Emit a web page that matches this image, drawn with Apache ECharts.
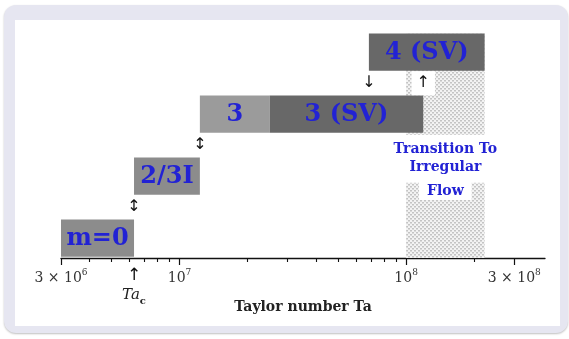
<!DOCTYPE html>
<html>
<head>
<meta charset="utf-8">
<script src="https://cdn.jsdelivr.net/npm/echarts@6/dist/echarts.min.js"></script>
<style>
  html, body { margin: 0; padding: 0; background: #fff; }
  #wrap { position: relative; width: 569px; height: 339px; overflow: hidden; }
  #frame { position: absolute; left: 4px; top: 5px; width: 564px; height: 328px;
           background: #e6e6f1; border-radius: 12px; box-shadow: 0 1px 2px rgba(0,0,0,0.25); }
  #panel { position: absolute; left: 15px; top: 20px; width: 545px; height: 306px; background: #fff; }
  #chart { position: absolute; left: 0; top: 0; width: 569px; height: 339px; }
</style>
</head>
<body>
<div id="wrap">
  <div id="frame"></div>
  <div id="panel"></div>
  <div id="chart"></div>
</div>
<script>
// flow regimes against Taylor number
const modeNames = ['m=0', '2/3I', '3', '3 (SV)', '4 (SV)'];
const modeStart = [3e6, 6.3e6, 1.23e7, 2.5e7, 6.85e7];
const modeEnd = [6.3e6, 1.23e7, 2.5e7, 1.19e8, 2.22e8];
const modeRow = [0, 1, 2, 2, 3];

// transitions between rows (arrow drawn in the gap above row)
const transitionTa = [6.3e6, 1.23e7, 6.85e7, 1.19e8];
const transitionRow = [0, 1, 2, 2];
const transitionGlyph = ['\u2195', '\u2195', '\u2193', '\u2191'];

// irregular flow band
const irregularFrom = 1e8;
const irregularTo = 2.22e8;
const noteText = ['Transition To\nIrregular', 'Flow'];
const noteTa = [1.49e8, 1.49e8];
const noteLevel = [1.6, 1.08];

// axis
const axisMin = 3e6;
const axisMax = 4.1e8;
const majorTicks = [3e6, 1e7, 1e8, 3e8];
const minorTicks = [4e6, 5e6, 6e6, 7e6, 8e6, 9e6,
  2e7, 3e7, 4e7, 5e7, 6e7, 7e7, 8e7, 9e7, 2e8];
const tickLabelTa = [3e6, 6.3e6, 1e7, 1e8, 3e8];
const tickLabelText = ['3 \u00d7 10{sup|6}', '{arr|\u2191}\n{it|Ta}{sub|c}', '10{sup|7}', '10{sup|8}', '3 \u00d7 10{sup|8}'];

const boxColors = ['#8c8c8c', '#8c8c8c', '#9b9b9b', '#686868', '#686868'];
const BLUE = '#2222d4';
const SERIF = '"DejaVu Serif", serif';
const BOX_LO = 0.02, BOX_HI = 0.62;

const lg = v => Math.log10(v);

function makeDots() {
  const c = document.createElement('canvas');
  c.width = 4; c.height = 4;
  const g = c.getContext('2d');
  g.fillStyle = '#f3f3f3';
  g.fillRect(0, 0, 4, 4);
  g.fillStyle = '#c4c4c4';
  g.fillRect(0, 0, 2, 1);
  g.fillRect(2, 2, 2, 1);
  g.fillStyle = '#dadada';
  g.fillRect(0, 1, 2, 1);
  g.fillRect(2, 3, 2, 1);
  return c;
}
const dots = makeDots();

const chart = echarts.init(document.getElementById('chart'), null, { renderer: 'canvas' });

const xBase = { type: 'value', min: lg(axisMin), max: lg(axisMax), gridIndex: 0, splitLine: { show: false } };

chart.setOption({
  animation: false,
  grid: { left: 61, right: 24, top: 10, bottom: 81, outerBoundsMode: 'none' },
  xAxis: [
    Object.assign({}, xBase, {
      position: 'bottom',
      axisLine: { lineStyle: { color: '#111', width: 1.3 } },
      axisTick: { customValues: majorTicks.map(lg), length: 7, lineStyle: { color: '#111', width: 1.2 } },
      axisLabel: {
        customValues: tickLabelTa.map(lg),
        margin: 10,
        color: '#333',
        fontFamily: SERIF,
        fontSize: 14,
        lineHeight: 20,
        formatter: (val) => {
          let best = 0;
          tickLabelTa.forEach((t, i) => {
            if (Math.abs(lg(t) - val) < Math.abs(lg(tickLabelTa[best]) - val)) best = i;
          });
          return tickLabelText[best];
        },
        rich: {
          sup: { fontSize: 9, fontFamily: SERIF, color: '#333', verticalAlign: 'top', lineHeight: 12 },
          arr: { fontSize: 17, fontFamily: '"DejaVu Sans"', color: '#111', lineHeight: 16 },
          it: { fontSize: 15, fontFamily: SERIF, fontStyle: 'italic', color: '#222', lineHeight: 22 },
          sub: { fontSize: 10, fontFamily: SERIF, fontWeight: 'bold', color: '#222', verticalAlign: 'bottom', lineHeight: 12 }
        }
      },
      name: 'Taylor number Ta',
      nameLocation: 'middle',
      nameGap: 42,
      nameMoveOverlap: false,
      nameTextStyle: { fontFamily: SERIF, fontWeight: 'bold', fontSize: 14, color: '#222' }
    }),
    Object.assign({}, xBase, {
      position: 'bottom',
      axisLine: { show: false },
      axisTick: { customValues: minorTicks.map(lg), length: 4, lineStyle: { color: '#111', width: 1.1 } },
      axisLabel: { show: false }
    })
  ],
  yAxis: { type: 'value', min: 0, max: 4, show: false },
  series: [
    {
      type: 'custom',
      name: 'irregular',
      coordinateSystem: 'cartesian2d',
      z: 1,
      data: [[lg(irregularFrom), lg(irregularTo)]],
      renderItem: (params, api) => {
        const a = api.coord([api.value(0), 3 + BOX_HI]);
        const b = api.coord([api.value(1), 0]);
        return {
          type: 'rect',
          shape: { x: a[0], y: a[1], width: b[0] - a[0], height: b[1] - a[1] },
          style: { fill: { image: dots, repeat: 'repeat' } }
        };
      }
    },
    {
      type: 'custom',
      name: 'modes',
      coordinateSystem: 'cartesian2d',
      z: 2,
      data: modeNames.map((n, i) => [lg(modeStart[i]), lg(modeEnd[i]), modeRow[i]]),
      renderItem: (params, api) => {
        const i = params.dataIndex;
        const a = api.coord([api.value(0), api.value(2) + BOX_HI]);
        const b = api.coord([api.value(1), api.value(2) + BOX_LO]);
        return {
          type: 'group',
          children: [
            {
              type: 'rect',
              shape: { x: a[0], y: a[1], width: b[0] - a[0], height: b[1] - a[1] },
              style: { fill: boxColors[i] }
            },
            {
              type: 'text',
              x: (a[0] + b[0]) / 2,
              y: (a[1] + b[1]) / 2 + 1,
              style: {
                text: modeNames[i], fill: BLUE, font: 'bold 24px ' + SERIF,
                align: 'center', verticalAlign: 'middle'
              }
            }
          ]
        };
      }
    },
    {
      type: 'custom',
      name: 'transitions',
      coordinateSystem: 'cartesian2d',
      z: 3,
      data: transitionTa.map((t, i) => [lg(t), transitionRow[i]]),
      renderItem: (params, api) => {
        const i = params.dataIndex;
        const ta = transitionTa[i];
        const inBand = ta >= irregularFrom && ta <= irregularTo;
        const p = api.coord([api.value(0), api.value(1) + (BOX_HI + 1 + BOX_LO) / 2]);
        return {
          type: 'text',
          x: p[0], y: p[1],
          style: {
            text: transitionGlyph[i], align: 'center', verticalAlign: 'middle',
            font: '16px "DejaVu Sans"', fill: '#111',
            backgroundColor: inBand ? '#fff' : null, padding: [4, 5]
          }
        };
      }
    },
    {
      type: 'custom',
      name: 'notes',
      coordinateSystem: 'cartesian2d',
      z: 3,
      data: noteText.map((t, i) => [lg(noteTa[i]), noteLevel[i]]),
      renderItem: (params, api) => {
        const i = params.dataIndex;
        const p = api.coord([api.value(0), api.value(1)]);
        return {
          type: 'text',
          x: p[0], y: p[1],
          style: {
            text: noteText[i], align: 'center', verticalAlign: 'middle',
            font: 'bold 14px ' + SERIF, fill: BLUE, lineHeight: 18,
            backgroundColor: '#fff', padding: i === 0 ? [6, 2] : [0, 8]
          }
        };
      }
    }
  ]
});
</script>
</body>
</html>
